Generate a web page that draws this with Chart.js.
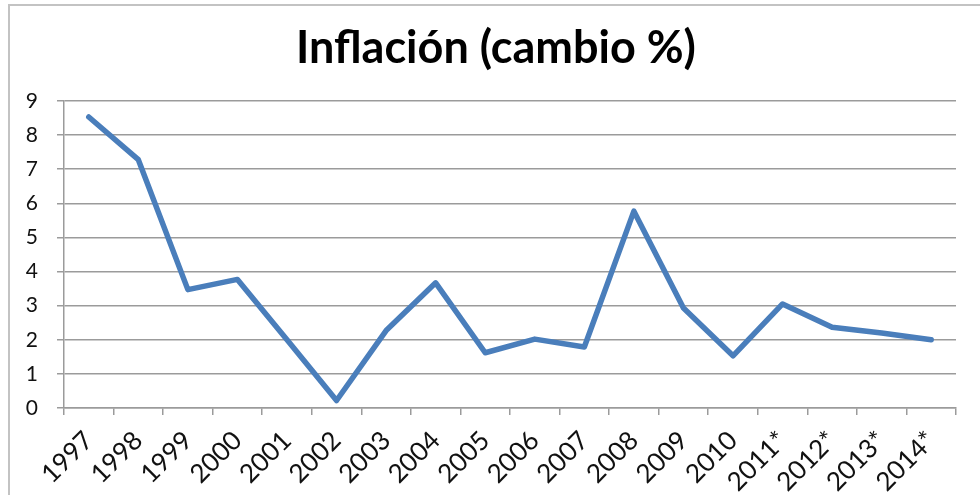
<!DOCTYPE html>
<html lang="es">
<head>
    <meta charset="UTF-8">
    <title>Inflación (cambio %)</title>
    <script src="https://cdn.jsdelivr.net/npm/chart.js@4"></script>
    <style>
        body { margin: 0; background: #fff; }
        #frame {
            position: absolute; left: 8px; top: 4px;
            width: 1000px; height: 600px;
            border-left: 2px solid #c3c3c3; border-top: 2px solid #c3c3c3;
        }
        #wrap { position: absolute; left: 0; top: 0; width: 980px; height: 495px; }
    </style>
</head>
<body>
    <div id="frame"></div>
    <div id="wrap"><canvas id="chart" width="980" height="495"></canvas></div>
    <script>
        // valores
        const years = ['1997', '1998', '1999', '2000', '2001', '2002', '2003', '2004', '2005',
                       '2006', '2007', '2008', '2009', '2010', '2011*', '2012*', '2013*', '2014*'];
        const inflation = [8.53, 7.28, 3.47, 3.77, 2.0, 0.22, 2.27, 3.67, 1.62,
                           2.02, 1.79, 5.77, 2.93, 1.53, 3.05, 2.37, 2.2, 2.0];
        const yTicks = [0, 1, 2, 3, 4, 5, 6, 7, 8, 9];
        const titleText = 'Inflación (cambio %)';

        const gridGray = '#9b9b9b';
        const ctx = document.getElementById('chart');

        // the built-in title centres on the layout box, the original sits a bit right of that
        const titlePlugin = {
            id: 'excelTitle',
            afterDraw(chart) {
                const c = chart.ctx;
                c.save();
                c.font = 'bold 45px Lato';
                c.fillStyle = '#000';
                c.textAlign = 'center';
                c.textBaseline = 'middle';
                c.fillText(titleText, 496, 48);
                c.restore();
            }
        };

        new Chart(ctx, {
            type: 'line',
            data: {
                labels: years,
                datasets: [{
                    label: 'Inflación',
                    data: inflation,
                    borderColor: '#4a7ebb',
                    borderWidth: 5.5,
                    pointRadius: 0,
                    tension: 0,
                    borderCapStyle: 'round',
                    borderJoinStyle: 'round'
                }]
            },
            options: {
                responsive: false,
                animation: false,
                layout: { padding: { left: 0, right: 24, top: 101, bottom: 0 } },
                plugins: {
                    legend: { display: false },
                    tooltip: { enabled: false },
                    title: { display: false }
                },
                scales: {
                    x: {
                        offset: true,
                        afterFit: s => { s.height = 87; },
                        grid: {
                            offset: true,
                            drawOnChartArea: false,
                            color: gridGray,
                            lineWidth: 1.5,
                            tickLength: 7
                        },
                        border: { color: gridGray, width: 1.5 },
                        ticks: {
                            autoSkip: false,
                            maxRotation: 45,
                            minRotation: 45,
                            padding: 10,
                            color: '#111',
                            font: { family: 'Lato', size: 26 }
                        }
                    },
                    y: {
                        min: 0,
                        max: 9,
                        afterFit: s => { s.width = 64; },
                        afterBuildTicks: s => { s.ticks = yTicks.map(v => ({ value: v })); },
                        grid: {
                            color: gridGray,
                            lineWidth: 1.5,
                            tickLength: 7
                        },
                        border: { color: gridGray, width: 1.5 },
                        ticks: {
                            padding: 19,
                            color: '#111',
                            font: { family: 'Lato', size: 21 }
                        }
                    }
                }
            },
            plugins: [titlePlugin]
        });
    </script>
</body>
</html>
